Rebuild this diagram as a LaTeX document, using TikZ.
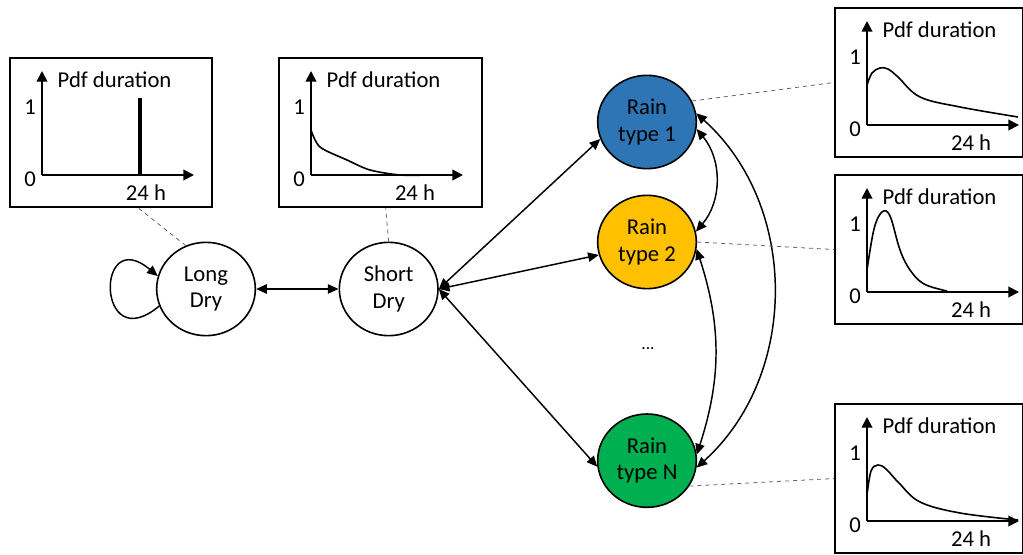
\documentclass[tikz,border=0pt]{standalone}
\usepackage{fontspec}
\setmainfont{Carlito}
\usetikzlibrary{arrows.meta,shapes.geometric,calc}
\definecolor{rainblue}{RGB}{46,117,182}
\definecolor{raingold}{RGB}{255,192,0}
\definecolor{raingreen}{RGB}{0,176,80}

\begin{document}
\begin{tikzpicture}[x=0.75pt, y=-0.75pt, font=\fontsize{17}{20}\selectfont]
\useasboundingbox (0,0) rectangle (1023,555);
\tikzset{state/.style={ellipse, draw=black, line width=1.2pt, minimum width=74pt, minimum height=70pt, inner sep=0pt, align=center}}
\tikzset{plotbox/.style={rectangle, draw=black, line width=1.3pt, anchor=north west, minimum height=112pt, inner sep=0pt}}
\tikzset{axis/.style={line width=1.4pt, -{Triangle[length=8pt, width=8pt]}}}
\tikzset{curve/.style={line width=1.2pt}}
\tikzset{transit/.style={line width=1.1pt, {Triangle[length=8pt, width=7pt]}-{Triangle[length=8pt, width=7pt]}}}
\tikzset{link/.style={dashed, line width=0.6pt, draw=black!60}}

	\newcommand{\pdfbox}[5]{
\begin{scope}[shift={(#1,#2)}]
\node[plotbox, minimum width=#3*0.75pt] (#4) at (0,0) {};
\coordinate (#4O) at (33,118);
\coordinate (#4Y) at (33,14);
\coordinate (#4X) at (185,118);
\draw[axis] (#4O) -- (#4Y);
\draw[axis] (#4O) -- (#4X);
\node[anchor=west] (#4lab) at (44,23) {Pdf duration};
\node (#4one) at (21,50) {1};
\node (#4zero) at (21,122) {0};
\node (#4h) at (137,136) {24 h};
#5
\end{scope}
	}

\pdfbox{9}{57}{202}{plotA}{\draw[line width=3pt] (131,41) -- (131,118);}
\pdfbox{278}{57}{203}{plotB}{\draw[curve] plot[smooth] coordinates {(33,73) (42,90) (69,103) (92,113) (122,118) (150,118)};}
\pdfbox{834}{7}{188}{plotC}{\draw[curve] plot[smooth, tension=0.6] coordinates {(33,78) (38,66) (46,61) (54,62) (64,70) (86,90) (126,100) (184,110)};}
\pdfbox{834}{174}{188}{plotD}{\draw[curve] plot[smooth, tension=0.6] coordinates {(33,96) (40,55) (48,38) (56,42) (66,76) (76,96) (90,110) (113,117)};}
\pdfbox{834}{403}{188}{plotE}{\draw[curve] plot[smooth, tension=0.6] coordinates {(33,92) (37,68) (44,62) (52,66) (65,80) (86,99) (126,110) (184,117)};}

\node[state] (longdry) at (206,289) {Long\\Dry};
\node[state, right of=longdry, node distance=137pt] (shortdry) {Short\\Dry};
\node[state, fill=rainblue] (rain1) at (647,122) {Rain\\type 1};
\node[state, fill=raingold, below of=rain1, node distance=90pt] (rain2) {Rain\\type 2};
\node[state, fill=raingreen, below of=rain2, node distance=164pt] (rainN) {Rain\\type N};
\node[font=\fontsize{13}{15}\selectfont] (dots) at (648,349) {...};

\draw[line width=1.1pt, -{Triangle[length=8pt, width=7pt]}] (longdry.200) to[out=220, in=140, looseness=7] (longdry.165);
\draw[transit] (longdry) -- (shortdry);
\draw[transit] (shortdry.east) -- (rain1.200);
\draw[transit] (shortdry.east) -- (rain2.195);
\draw[transit] (shortdry.east) -- (rainN.187);
\draw[transit] (rain1.-8) to[bend left=40] (rain2.12);
\draw[transit] (rain2.-8) to[bend left=18] (rainN.7);
\draw[transit] (rain1.10) to[bend left=48] (rainN.-8);

\draw[link] (longdry.115) -- (plotA.-70);
\draw[link] (shortdry.north) -- (plotB.-86);
\draw[link] (rain1.25) -- (plotC.west);
\draw[link] (rain2.east) -- (plotD.west);
\draw[link] (rainN.-31) -- (plotE.west);
\end{tikzpicture}
\end{document}
